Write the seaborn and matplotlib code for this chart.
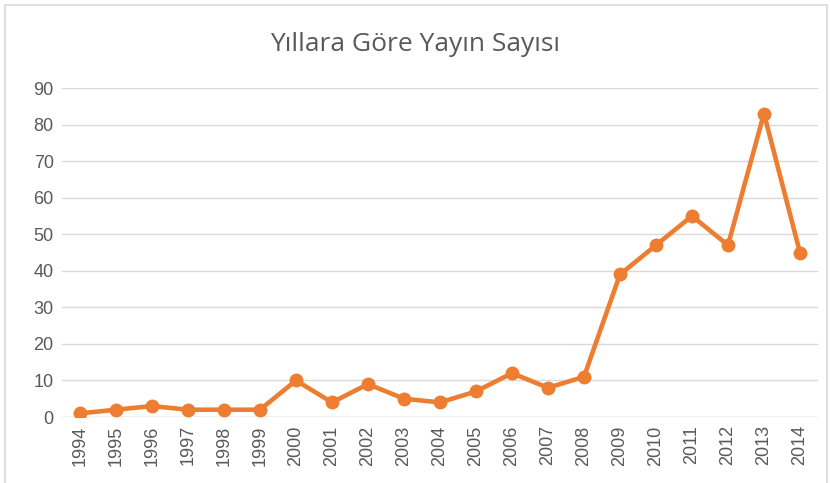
import numpy as np
import pandas as pd
import seaborn as sns
import matplotlib.pyplot as plt
from matplotlib.patches import Rectangle

# Data
years = [str(y) for y in range(1994, 2015)]
counts = [1, 2, 3, 2, 2, 2, 10, 4, 9, 5, 4, 7, 12, 8, 11, 39, 47, 55, 47, 83, 45]
yticks = [0, 10, 20, 30, 40, 50, 60, 70, 80, 90]

df = pd.DataFrame({"Yil": years, "Sayi": counts})

sns.set_style("white")
plt.rcParams['font.family'] = ['Liberation Sans', 'DejaVu Sans']

fig = plt.figure(figsize=(8.3, 4.83), dpi=100)
ax = fig.add_axes([0.0747, 0.1366, 0.9108, 0.6812])

sns.lineplot(data=df, x="Yil", y="Sayi", ax=ax, color="#ED7D31", linewidth=3.3,
             marker="o", markersize=10, markeredgewidth=0, sort=False)

ax.set_xlim(-0.5, len(years) - 0.5)
ax.set_ylim(0, 90)
ax.set_yticks(yticks)
ax.yaxis.grid(True, color="#D9D9D9", linewidth=1)
ax.set_axisbelow(True)
for s in ax.spines.values():
    s.set_visible(False)
ax.axhline(0, color="#D9D9D9", linewidth=1, zorder=0)
ax.tick_params(axis="both", length=0, labelsize=13, labelcolor="#595959", pad=6)
ax.tick_params(axis="x", rotation=90)
ax.set_xlabel("")
ax.set_ylabel("")

fig.text(0.5, 0.907, "Yıllara Göre Yayın Sayısı", ha="center", va="center",
         fontsize=19, color="#595959", family=['Open Sans', 'DejaVu Sans'])

# chart border
fig.patches.append(Rectangle((0.006, -0.01), 0.99, 1.0, transform=fig.transFigure,
                             fill=False, edgecolor="#D9D9D9", linewidth=1.2))

fig.savefig("out.png", dpi=100)
